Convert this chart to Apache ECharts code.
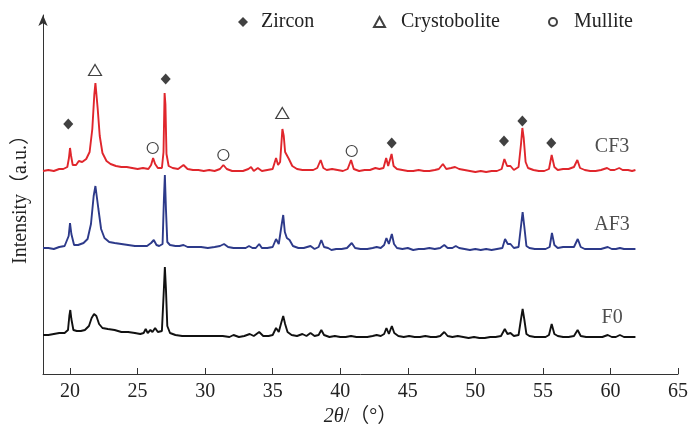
<!DOCTYPE html>
<html>
<head>
<meta charset="utf-8">
<script src="https://cdn.jsdelivr.net/npm/echarts@6/dist/echarts.min.js"></script>
<style>
  html, body { margin: 0; padding: 0; background: #fff; }
  #chart { width: 692px; height: 429px; }
</style>
</head>
<body>
<div id="chart"></div>
<script>
// XRD patterns, [2theta, intensity (a.u., offset traces)]
const cf3 = [[18.0,203],[18.4,204],[18.8,203],[19.2,205],[19.5,205],[19.8,207],[19.92,216],[20.0,226],[20.08,218],[20.2,209],[20.45,209],[20.65,213],[20.9,212],[21.2,215],[21.45,222],[21.65,245],[21.8,280],[21.88,291],[21.95,289],[22.05,265],[22.2,238],[22.4,221],[22.7,213],[23.0,210],[23.4,208],[23.8,207],[24.2,207],[24.6,206],[25.0,205],[25.4,206],[25.8,205],[26.0,209],[26.15,216],[26.3,210],[26.5,206],[26.8,206],[26.92,222],[27.0,281],[27.06,270],[27.14,220],[27.3,208],[27.6,206],[28.0,205],[28.4,209],[28.7,205],[29.1,204],[29.5,204],[29.9,203],[30.3,204],[30.7,203],[31.1,205],[31.35,209],[31.6,205],[32.0,203],[32.4,203],[32.8,203],[33.2,205],[33.4,207],[33.6,203],[33.9,206],[34.2,203],[34.6,204],[35.0,205],[35.25,216],[35.4,209],[35.55,212],[35.72,245],[35.82,238],[35.92,222],[36.05,221],[36.2,215],[36.45,208],[36.8,205],[37.2,204],[37.6,204],[38.0,204],[38.3,206],[38.55,214],[38.75,206],[39.0,204],[39.4,205],[39.8,204],[40.2,203],[40.55,205],[40.8,214],[41.0,205],[41.4,203],[41.8,204],[42.2,204],[42.6,206],[42.9,205],[43.2,206],[43.4,216],[43.55,208],[43.8,220],[43.95,208],[44.2,205],[44.6,204],[45.0,203],[45.4,203],[45.8,204],[46.2,203],[46.6,203],[47.0,204],[47.3,205],[47.6,210],[47.85,205],[48.2,206],[48.5,207],[48.8,205],[49.2,204],[49.6,203],[50.0,202],[50.4,203],[50.8,202],[51.2,203],[51.6,203],[51.95,205],[52.15,215],[52.35,208],[52.6,208],[52.85,204],[53.2,207],[53.38,230],[53.48,246],[53.58,236],[53.72,212],[53.9,206],[54.3,204],[54.7,203],[55.1,203],[55.45,205],[55.65,219],[55.85,207],[56.1,204],[56.5,205],[56.9,205],[57.3,207],[57.55,214],[57.75,206],[58.1,204],[58.5,203],[58.9,203],[59.3,204],[59.75,206],[60.0,204],[60.3,204],[60.65,206],[60.9,204],[61.3,204],[61.6,203],[61.85,204]];

const af3 = [[18.0,126],[18.4,126],[18.8,125],[19.2,127],[19.6,128],[19.9,138],[20.0,151],[20.1,140],[20.3,129],[20.6,129],[21.0,131],[21.3,135],[21.55,150],[21.75,178],[21.88,188],[21.98,186],[22.1,165],[22.3,145],[22.55,136],[22.9,132],[23.3,131],[23.8,130],[24.3,129],[24.8,128],[25.3,128],[25.7,128],[26.0,131],[26.2,134],[26.4,129],[26.6,128],[26.85,130],[26.95,175],[27.02,199],[27.1,165],[27.2,132],[27.4,129],[27.8,128],[28.1,128],[28.4,129],[28.7,127],[29.2,127],[29.7,127],[30.2,126],[30.7,127],[31.1,128],[31.4,130],[31.7,127],[32.1,126],[32.6,126],[33.0,126],[33.25,128],[33.5,126],[33.75,126],[34.0,130],[34.2,126],[34.6,126],[35.0,127],[35.25,135],[35.45,130],[35.65,148],[35.78,159],[35.9,142],[36.05,136],[36.25,134],[36.5,128],[36.9,126],[37.3,126],[37.8,128],[38.1,125],[38.4,127],[38.6,134],[38.8,127],[39.1,126],[39.35,124],[39.7,125],[40.1,125],[40.5,126],[40.85,131],[41.1,126],[41.5,125],[42.0,125],[42.4,126],[42.7,127],[43.0,126],[43.25,129],[43.42,136],[43.6,130],[43.82,140],[43.98,130],[44.2,126],[44.6,125],[45.0,126],[45.4,124],[45.8,125],[46.2,125],[46.6,126],[47.0,125],[47.4,126],[47.7,129],[47.95,126],[48.3,126],[48.55,128],[48.8,126],[49.2,125],[49.6,124],[50.0,125],[50.4,124],[50.8,125],[51.2,124],[51.6,125],[52.0,126],[52.2,135],[52.4,130],[52.6,130],[52.85,126],[53.2,127],[53.38,148],[53.5,162],[53.62,148],[53.78,128],[54.0,126],[54.4,125],[54.8,125],[55.2,125],[55.5,127],[55.67,141],[55.85,129],[56.1,126],[56.5,127],[56.9,127],[57.3,127],[57.58,135],[57.8,127],[58.1,125],[58.5,125],[58.9,125],[59.3,125],[59.8,127],[60.1,125],[60.4,125],[60.7,126],[61.0,125],[61.4,125],[61.85,125]];

const f0 = [[18.0,39],[18.4,39],[18.8,40],[19.2,41],[19.6,41],[19.85,44],[19.95,58],[20.02,64],[20.1,55],[20.25,44],[20.5,43],[20.8,43],[21.1,44],[21.4,48],[21.6,56],[21.78,60],[21.95,58],[22.15,50],[22.4,46],[22.8,45],[23.3,44],[23.8,42],[24.3,42],[24.8,41],[25.2,40],[25.45,41],[25.6,45],[25.75,41],[25.95,44],[26.1,42],[26.3,46],[26.5,42],[26.8,43],[26.93,80],[27.02,107],[27.1,85],[27.2,48],[27.4,41],[27.8,39],[28.3,38],[28.8,38],[29.3,38],[29.8,38],[30.3,38],[30.8,38],[31.3,38],[31.8,37],[32.1,39],[32.5,37],[32.9,38],[33.3,40],[33.6,38],[34.0,42],[34.3,38],[34.7,38],[35.0,39],[35.25,46],[35.45,42],[35.65,52],[35.78,58],[35.92,50],[36.1,42],[36.4,39],[36.8,38],[37.2,40],[37.5,38],[37.8,41],[38.1,38],[38.4,39],[38.6,44],[38.8,39],[39.2,37],[39.6,38],[40.0,37],[40.4,37],[40.8,38],[41.2,37],[41.6,37],[42.0,37],[42.4,38],[42.7,39],[43.0,38],[43.25,40],[43.42,46],[43.6,40],[43.82,48],[44.0,41],[44.3,38],[44.7,37],[45.1,38],[45.5,37],[45.9,37],[46.3,38],[46.7,37],[47.1,37],[47.4,38],[47.7,42],[47.95,38],[48.3,37],[48.7,38],[49.1,37],[49.5,36],[49.9,37],[50.3,36],[50.7,36],[51.1,37],[51.5,37],[51.9,38],[52.18,45],[52.38,40],[52.6,41],[52.85,38],[53.2,39],[53.38,55],[53.5,65],[53.62,55],[53.78,40],[54.0,38],[54.4,37],[54.8,37],[55.2,37],[55.45,39],[55.65,50],[55.85,40],[56.1,38],[56.5,37],[56.9,37],[57.3,38],[57.57,44],[57.8,38],[58.2,37],[58.6,37],[59.0,37],[59.4,37],[59.8,39],[60.1,37],[60.4,37],[60.7,39],[61.0,37],[61.4,37],[61.85,37]];

// phase marks above CF3 peaks
const zirconMarks = [[19.87,250],[27.08,295],[43.81,231],[52.12,233],[53.48,253],[55.62,231]];
const cristobaliteMarks = [[21.85,304],[35.71,261]];
const mulliteMarks = [[26.12,226],[31.35,219],[40.85,223]];

// sample names at right end of each trace
const sampleLabels = [[60.12,227,'CF3'],[60.12,149,'AF3'],[60.12,56,'F0']];

const FONT = "'Liberation Serif', 'Times New Roman', 'Noto Sans CJK SC', serif";
const TEXT = '#222';

const chart = echarts.init(document.getElementById('chart'));

const lineSeries = (name, data, color) => ({
  name,
  type: 'line',
  data,
  symbol: 'none',
  lineStyle: { color, width: 1.9 },
  itemStyle: { color },
  z: 2
});

const legendText = (pad) => ({ fontFamily: FONT, fontSize: 20, color: TEXT, padding: [0, 0, 0, pad] });

chart.setOption({
  animation: false,
  grid: { left: 43, right: 14, top: 15, bottom: 55, containLabel: false, outerBoundsMode: 'none' },
  legend: [
    { left: 233, top: 7, itemWidth: 10, itemHeight: 10, selectedMode: false,
      data: [{ name: 'Zircon', icon: 'diamond' }], textStyle: legendText(8) },
    { left: 368, top: 7, itemWidth: 11, itemHeight: 10, selectedMode: false,
      data: [{ name: 'Crystobolite', icon: 'triangle' }], textStyle: legendText(11) },
    { left: 543, top: 7, itemWidth: 8, itemHeight: 8, selectedMode: false,
      data: [{ name: 'Mullite', icon: 'circle' }], textStyle: legendText(12) }
  ],
  xAxis: {
    type: 'value',
    min: 18,
    max: 65,
    splitNumber: 9,
    name: '{i|2θ}/（°）',
    nameLocation: 'middle',
    nameGap: 30,
    nameTextStyle: {
      fontFamily: FONT, fontSize: 20, color: TEXT,
      rich: { i: { fontFamily: FONT, fontSize: 20, fontStyle: 'italic', color: TEXT } }
    },
    axisLine: { onZero: false, lineStyle: { color: '#333', width: 1 } },
    axisTick: { inside: true, length: 6, lineStyle: { color: '#333' } },
    axisLabel: {
      fontFamily: FONT, fontSize: 20, color: TEXT, margin: 8,
      showMinLabel: false,
      formatter: v => (v % 5 === 0 ? String(v) : '')
    },
    splitLine: { show: false }
  },
  yAxis: {
    type: 'value',
    min: 0,
    max: 359,
    name: 'Intensity（a.u.）',
    nameLocation: 'middle',
    nameGap: 12,
    nameTextStyle: { fontFamily: FONT, fontSize: 20, color: TEXT },
    axisLine: {
      show: true, onZero: false,
      symbol: ['none', 'arrow'], symbolSize: [7, 11],
      lineStyle: { color: '#333', width: 1 }
    },
    axisTick: { show: false },
    axisLabel: { show: false },
    splitLine: { show: false }
  },
  series: [
    lineSeries('F0', f0, '#111111'),
    lineSeries('AF3', af3, '#2d3a8a'),
    lineSeries('CF3', cf3, '#e0262c'),
    {
      name: 'Zircon', type: 'scatter', data: zirconMarks,
      symbol: 'diamond', symbolSize: [10, 11],
      itemStyle: { color: '#111' }, z: 3
    },
    {
      name: 'Crystobolite', type: 'scatter', data: cristobaliteMarks,
      symbol: 'triangle', symbolSize: [13, 11],
      itemStyle: { color: '#fff', borderColor: '#111', borderWidth: 1.2 }, z: 3
    },
    {
      name: 'Mullite', type: 'scatter', data: mulliteMarks,
      symbol: 'circle', symbolSize: 11,
      itemStyle: { color: '#fff', borderColor: '#111', borderWidth: 1.2 }, z: 3
    },
    {
      name: 'samples', type: 'scatter', data: sampleLabels,
      symbolSize: 0, silent: true,
      label: {
        show: true, position: 'inside',
        formatter: p => p.value[2],
        fontFamily: FONT, fontSize: 20, color: TEXT
      }
    }
  ]
});
</script>
</body>
</html>
